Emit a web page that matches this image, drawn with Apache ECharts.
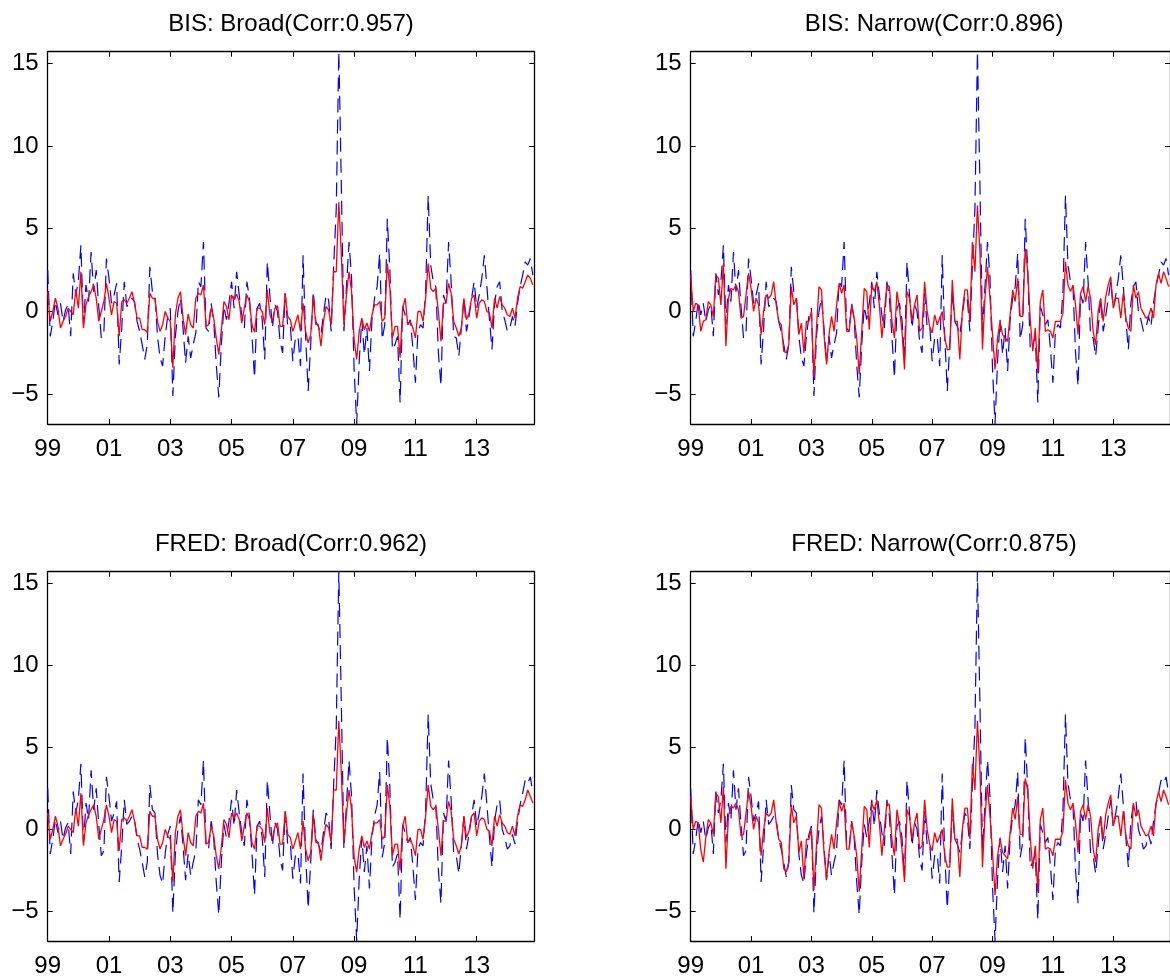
<!DOCTYPE html>
<html><head><meta charset="utf-8">
<script src="https://cdn.jsdelivr.net/npm/echarts@6/dist/echarts.min.js"></script>
<style>html,body{margin:0;padding:0;background:#fff;overflow:hidden}#c{width:1170px;height:978px}</style>
</head><body><div id="c"></div>
<script>
// ---- data (monthly, starting Jan 1999) ----
const startYear = 1999;
const xTickYears = [1999, 2001, 2003, 2005, 2007, 2009, 2011, 2013];
const yTicks = [-5, 0, 5, 10, 15];
const panelTitles = ['BIS: Broad(Corr:0.957)', 'BIS: Narrow(Corr:0.896)', 'FRED: Broad(Corr:0.962)', 'FRED: Narrow(Corr:0.875)'];

const actual = [
 2.5,-1.5,-0.6,0.6,-0.2,0.5,-0.6,0.1,0.4,-1.5,2.3,1.0,
 1.8,4.0,-0.8,1.6,0.6,3.6,1.2,2.5,0.3,-1.6,-1.3,3.2,
 2.0,0.5,1.0,1.7,-3.2,-1.0,1.8,0.3,0.5,0.8,0.6,-0.6,
 -1.2,-2.0,-2.9,-2.0,2.7,1.2,1.0,-1.5,-2.8,-3.3,-1.5,-0.3,
 0.2,-5.1,-1.5,0.0,0.8,-1.0,-3.1,-1.5,-2.8,-2.0,-1.3,1.8,
 1.5,4.2,-1.0,-1.2,0.5,-0.5,-3.2,-5.2,-2.0,0.3,-0.5,0.5,
 1.8,0.2,2.4,1.0,-0.2,-1.0,1.8,0.8,-1.5,-4.0,0.2,0.5,
 -0.5,-2.9,3.0,1.0,-1.0,0.4,0.0,-1.8,-2.5,1.1,-0.9,-0.8,
 -3.0,-1.6,-1.5,-3.3,3.4,-1.5,-4.8,-2.0,1.2,-0.6,-0.9,-1.4,
 -0.2,1.0,0.7,-1.2,2.8,6.2,15.7,7.6,-1.2,1.5,4.2,2.0,
 -3.5,-6.8,-3.0,-0.5,-2.6,-1.0,-3.6,-0.5,0.8,1.5,3.5,-1.7,
 -0.8,5.6,2.5,-2.3,-2.0,-1.5,-5.5,0.3,-0.2,-0.8,-0.5,-2.2,
 -4.3,-1.2,-0.8,-1.0,1.2,7.0,2.8,1.8,1.5,-2.5,-4.5,1.0,
 0.5,4.2,1.8,-1.5,-1.6,-2.7,-1.0,0.8,-1.2,-0.3,0.8,1.8,
 0.2,1.0,2.0,3.4,1.5,-0.5,-2.3,0.5,1.5,1.8,0.0,-0.5,
 -1.2,-1.0,-0.3,-0.9,0.5,1.5,2.2,3.0,2.8,3.2,2.2
];

const bisBroad = [
 1.2,-0.6,0.0,0.8,0.2,-1.0,-0.6,-0.3,0.2,0.0,-0.2,1.3,
 0.2,2.4,-1.0,0.4,0.9,1.2,1.6,0.8,-0.6,0.0,0.6,1.7,
 0.8,-0.2,0.6,0.5,-1.5,0.6,0.7,0.5,0.8,1.2,0.5,-0.4,
 -0.4,-1.1,-1.1,-1.25,1.1,0.8,0.77,-0.6,-1.2,-0.8,0.0,-0.4,
 -0.6,-3.4,-0.2,0.8,1.2,-0.4,-1.4,-0.15,-0.8,-1.0,0.8,1.1,
 1.0,1.6,-0.9,-0.8,0.2,-0.4,-1.6,-2.6,-1.1,0.6,0.3,-0.5,
 1.0,0.7,1.05,0.6,-0.7,0.2,1.0,0.6,-0.8,-1.25,0.2,0.2,
 0.0,-0.8,1.3,-0.2,-0.6,0.2,0.35,-0.9,-0.9,1.1,-0.3,-0.5,
 -1.2,-0.7,-0.2,-1.2,0.5,-1.2,-1.9,-1.4,0.9,-0.8,-0.8,-2.1,
 -0.6,0.3,0.1,-0.8,2.4,2.4,6.6,3.4,-0.8,1.0,2.4,1.2,
 -1.7,-2.9,-1.2,-0.4,-1.1,-0.7,-1.2,-0.2,0.4,0.4,0.6,-0.6,
 -0.4,2.9,1.4,-1.6,-0.9,-0.9,-2.8,0.2,0.8,-0.8,-0.6,-1.0,
 -1.6,0.0,0.0,-0.6,0.8,2.9,1.4,1.2,1.4,0.0,-1.8,0.5,
 0.5,1.7,1.1,-0.6,-1.0,-1.5,-1.0,0.8,-0.5,-0.1,0.8,1.0,
 -0.4,0.5,0.7,0.6,0.0,-0.1,-1.0,0.8,0.2,0.9,0.4,0.2,
 -0.2,-0.3,0.2,-0.4,0.8,1.5,1.4,1.8,2.2,2.0,1.6
];

const bisNarrow = [
 2.2,0.0,0.5,0.4,-1.2,-0.6,-0.5,0.6,0.4,-0.3,2.2,2.0,
 0.4,2.9,-2.1,0.8,1.4,1.3,1.6,1.2,-0.4,-0.3,1.0,2.3,
 1.4,0.0,0.8,0.4,-1.4,0.0,1.0,0.8,1.0,1.8,0.4,-0.6,
 -0.8,-2.4,-2.5,-2.0,1.5,0.4,0.8,-1.4,-0.7,-2.5,-0.6,-0.6,
 0.0,-4.0,-1.0,1.5,1.3,-1.4,-3.2,-1.4,-0.3,-1.2,0.4,1.7,
 1.1,1.6,-1.2,-1.2,0.4,-0.4,-1.6,-3.8,-1.2,1.4,1.2,-1.1,
 1.6,1.2,1.8,0.4,-1.6,0.0,1.6,1.5,-0.6,-1.6,1.2,0.2,
 -1.2,-3.5,1.2,0.8,-0.6,0.4,1.0,-1.2,-1.0,1.8,0.0,-0.9,
 -1.3,-0.2,-0.8,-0.4,0.0,-1.6,-2.3,-2.3,1.9,-0.6,-0.6,-2.9,
 0.0,1.3,1.3,-0.6,4.2,2.4,6.4,3.6,-2.3,0.8,2.7,0.8,
 -1.4,-3.5,-1.6,-0.6,-1.4,-1.6,-1.8,-0.2,1.3,0.6,2.0,-0.3,
 -0.3,3.8,2.4,-0.5,-2.4,-1.0,-3.7,0.6,1.3,-1.2,-1.1,-1.2,
 -1.6,-0.6,-0.6,-0.6,-0.1,3.0,1.6,1.2,1.6,0.4,-1.4,1.1,
 1.5,0.6,1.5,0.8,-1.2,-2.0,0.0,0.8,-0.6,0.9,1.6,2.1,
 0.2,0.8,0.8,-0.4,1.1,-0.4,-1.0,-1.2,1.6,0.8,1.2,0.2,
 -0.1,-0.4,-0.3,0.2,-0.4,1.6,2.3,1.7,2.4,2.0,1.5
];

const fredBroad = [
 1.0,-0.6,0.0,0.8,0.2,-1.0,-0.6,-0.3,0.2,0.0,-0.2,1.3,
 0.2,2.2,-1.0,0.4,0.9,1.2,1.5,0.8,-0.6,0.0,0.6,1.5,
 0.8,-0.2,0.6,0.5,-1.3,0.6,0.7,0.5,0.8,1.2,0.5,-0.4,
 -0.4,-1.1,-1.1,-1.2,1.1,0.8,0.8,-0.6,-1.2,-0.8,0.0,-0.4,
 -0.6,-3.2,-0.2,0.8,1.2,-0.4,-1.6,-0.2,-0.8,-1.0,0.8,1.1,
 1.0,1.6,-0.9,-0.8,0.2,-0.4,-1.6,-2.4,-1.1,0.6,0.3,-0.5,
 1.0,0.7,1.0,0.6,-0.7,0.2,1.0,0.6,-0.8,-1.2,0.2,0.2,
 0.0,-0.8,1.3,-0.2,-0.6,0.2,0.4,-0.9,-0.9,1.1,-0.3,-0.5,
 -1.2,-0.7,-0.2,-1.2,0.5,-1.2,-1.9,-1.4,0.9,-0.8,-0.8,-1.9,
 -0.6,0.3,0.1,-0.8,2.4,2.4,6.6,3.4,-0.8,1.0,2.4,1.2,
 -1.7,-2.6,-1.2,-0.4,-1.1,-0.7,-1.2,-0.2,0.4,0.4,0.6,-0.6,
 -0.4,2.7,1.4,-1.6,-0.9,-0.9,-2.5,0.2,0.8,-0.8,-0.6,-1.0,
 -1.6,0.0,0.0,-0.6,0.8,2.7,1.4,1.2,1.4,0.0,-1.6,0.5,
 0.5,1.7,1.1,-0.6,-1.0,-1.5,-1.0,0.8,-0.5,-0.1,0.8,1.0,
 -0.4,0.5,0.7,0.6,0.0,-0.1,-1.0,0.8,0.2,0.9,0.4,0.2,
 -0.2,-0.3,0.2,-0.4,0.8,1.5,1.4,1.8,2.4,2.0,1.6
];

const fredNarrow = [
 2.0,0.0,0.5,0.4,-1.2,-2.0,-0.5,0.6,0.4,-0.3,2.2,2.0,
 0.4,2.6,-2.4,0.8,1.4,1.3,1.6,1.2,-0.4,-0.3,1.0,2.3,
 1.4,0.0,0.8,0.4,-1.6,0.0,1.0,0.8,1.0,1.8,0.4,-0.6,
 -0.8,-2.4,-2.6,-2.0,1.5,0.4,0.8,-1.4,-0.7,-3.0,-0.6,-0.6,
 0.0,-3.7,-1.0,1.5,1.3,-1.4,-3.0,-1.4,-0.3,-1.2,0.4,1.7,
 1.1,1.6,-1.2,-1.2,0.4,-0.4,-1.6,-3.8,-1.2,1.4,1.2,-1.1,
 1.6,1.2,1.8,0.4,-1.6,0.0,1.6,1.5,-0.6,-1.6,1.2,0.2,
 -1.2,-3.2,1.2,0.8,-0.6,0.4,1.0,-1.2,-1.0,1.8,0.0,-0.9,
 -1.3,-0.2,-0.8,-0.4,0.0,-1.6,-2.3,-2.3,1.9,-0.6,-0.6,-2.9,
 0.0,1.3,1.3,-0.6,4.0,2.4,6.6,3.6,-2.3,0.8,2.7,0.8,
 -1.4,-4.0,-1.6,-0.6,-1.4,-1.6,-1.8,-0.2,1.3,0.6,2.0,-0.3,
 -0.3,3.1,2.4,-0.5,-2.4,-1.0,-3.8,0.6,1.3,-1.2,-1.1,-1.2,
 -1.6,-0.6,-0.6,-0.6,-0.1,3.0,1.6,1.2,1.6,0.4,-1.4,1.1,
 1.5,0.6,1.5,0.8,-1.2,-2.0,0.0,0.8,-0.6,0.9,1.6,2.1,
 0.2,0.8,0.8,-0.4,1.1,-0.4,-1.0,-1.2,1.6,0.8,1.2,0.2,
 -0.1,-0.4,-0.3,0.2,-0.4,1.6,2.3,1.7,2.4,2.0,1.5
];

const panelRed = [bisBroad, bisNarrow, fredBroad, fredNarrow];

// ---- layout ----
const FONT = '"Liberation Sans", Arial, Helvetica, sans-serif';
const X_MIN = 1999, X_MAX = 2014.88, Y_MIN = -6.8, Y_MAX = 15.7;
const gridW = 486.6, gridH = 372.3;
const gridPos = [[47.7, 51.7], [690.7, 51.7], [47.7, 571.7], [690.7, 571.7]];

const toXY = arr => arr.map((v, k) => [startYear + k / 12, v]);
const xFmt = v => String(Math.round(v) % 100).padStart(2, '0');
const yFmt = v => v < 0 ? '\u2212' + Math.abs(v) : String(v);

const grids = [], xAxes = [], yAxes = [], series = [], graphics = [];
gridPos.forEach(([l, t], g) => {
  grids.push({left: l, top: t, width: gridW, height: gridH, containLabel: false});
  const lineStyle = {color: '#000', width: 1.3};
  ['bottom', 'top'].forEach((pos, j) => {
    xAxes.push({
      gridIndex: g, type: 'value', position: pos, min: X_MIN, max: X_MAX,
      axisLine: {show: true, onZero: false, lineStyle},
      axisTick: {show: true, inside: true, length: 5, customValues: xTickYears, lineStyle: {color: '#000', width: 1}},
      axisLabel: {show: j === 0, customValues: xTickYears, formatter: xFmt, fontSize: 24, color: '#000', fontFamily: FONT, margin: 13},
      splitLine: {show: false}
    });
  });
  ['left', 'right'].forEach((pos, j) => {
    yAxes.push({
      gridIndex: g, type: 'value', position: pos, min: Y_MIN, max: Y_MAX,
      axisLine: {show: true, onZero: false, lineStyle},
      axisTick: {show: true, inside: true, length: 5, customValues: yTicks, lineStyle: {color: '#000', width: 1}},
      axisLabel: {show: j === 0, customValues: yTicks, formatter: yFmt, fontSize: 24, color: '#000', fontFamily: FONT, margin: 9},
      splitLine: {show: false}
    });
  });
  series.push({
    type: 'line', xAxisIndex: 2 * g, yAxisIndex: 2 * g, data: toXY(actual),
    symbol: 'none', lineStyle: {color: '#0000ff', width: 1.2, type: [14, 7]}, z: 2
  });
  series.push({
    type: 'line', xAxisIndex: 2 * g, yAxisIndex: 2 * g, data: toXY(panelRed[g]),
    symbol: 'none', lineStyle: {color: '#ff0000', width: 1.3}, z: 3
  });
  graphics.push({
    type: 'text', x: l + gridW / 2, y: t - 27,
    style: {text: panelTitles[g], textAlign: 'center', textVerticalAlign: 'middle', fontSize: 24, fontFamily: FONT, fill: '#000'}
  });
});

const chart = echarts.init(document.getElementById('c'), null, {renderer: 'canvas'});
chart.setOption({
  animation: false,
  backgroundColor: '#fff',
  grid: grids, xAxis: xAxes, yAxis: yAxes, series,
  graphic: graphics
});
</script></body></html>
